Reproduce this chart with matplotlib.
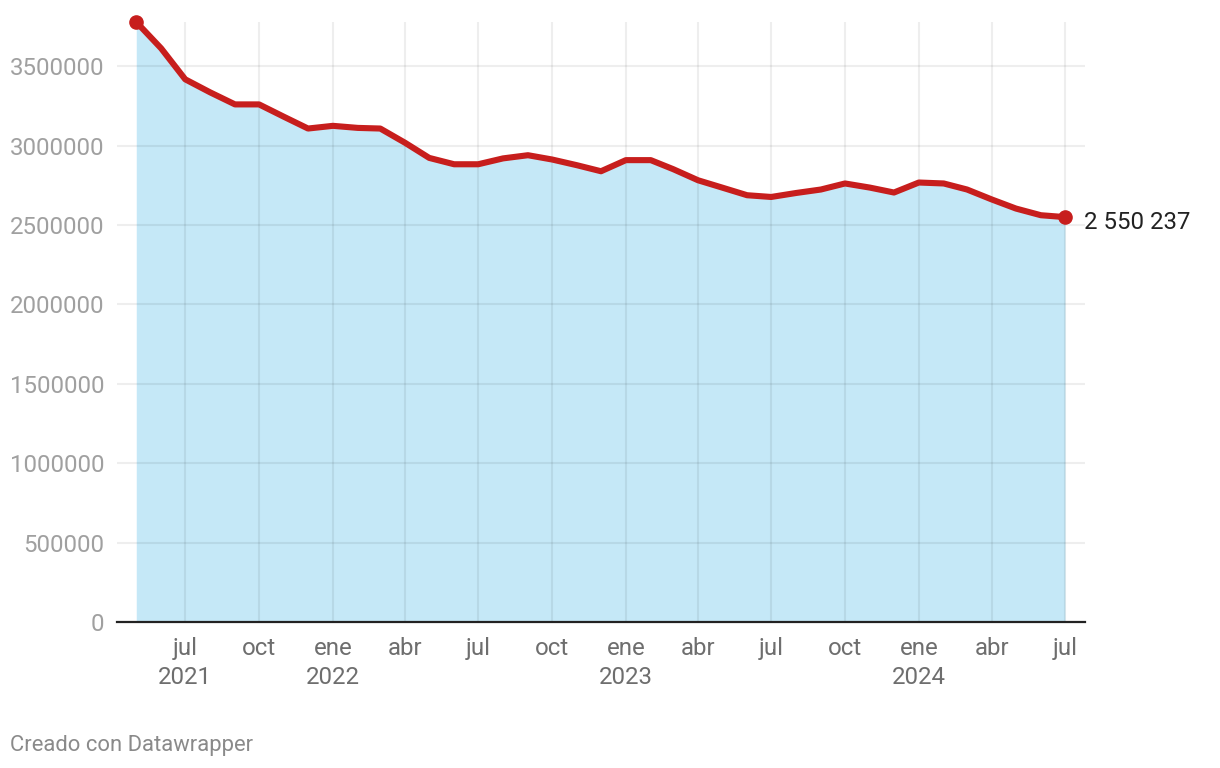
import pandas as pd
import matplotlib
matplotlib.use('Agg')
import matplotlib.pyplot as plt

plt.rcParams['font.family'] = ['Roboto', 'DejaVu Sans']

# datos mensuales, may 2021 - jul 2024
meses = pd.date_range('2021-05-01', '2024-07-01', freq='MS')
valores = [3779000, 3613000, 3418000, 3336000, 3260000, 3260000, 3182000, 3108000,
           3125000, 3112000, 3108000, 3018000, 2923000, 2883000, 2883000, 2920000,
           2940000, 2913000, 2877000, 2839000, 2909000, 2909000, 2852000, 2782000,
           2736000, 2688000, 2677000, 2702000, 2724000, 2762000, 2736000, 2705000,
           2768000, 2762000, 2724000, 2661000, 2604000, 2562000, 2550237]
nombres_mes = {1: 'ene', 4: 'abr', 7: 'jul', 10: 'oct'}
y_ticks = [0, 500000, 1000000, 1500000, 2000000, 2500000, 3000000, 3500000]

fig = plt.figure(figsize=(12.2, 7.68), dpi=100)
ax = fig.add_axes([117 / 1220, 1 - 622 / 768, 968 / 1220, 600 / 768])

ax.fill_between(meses, valores, 0, color='#c5e8f7', lw=0, zorder=1)
ax.plot(meses, valores, color='#c71e1d', lw=4.4, solid_joinstyle='round', zorder=3)
ax.plot([meses[0], meses[-1]], [valores[0], valores[-1]], 'o', color='#c71e1d',
        ms=9.5, zorder=4, clip_on=False)

# ejes
ax.set_xlim(pd.Timestamp('2021-04-07'), pd.Timestamp('2024-07-26'))
ax.set_ylim(0, valores[0])
ax.set_yticks(y_ticks)
ax.set_yticklabels([str(v) for v in y_ticks])

xt = [m for m in meses if m.month in nombres_mes]
xl = []
for m in xt:
    s = nombres_mes[m.month]
    if m.month == 1 or m == xt[0]:
        s += '\n' + str(m.year)
    xl.append(s)
ax.set_xticks(xt)
ax.set_xticklabels(xl, linespacing=1.3)

ax.grid(True, color='black', alpha=0.065, lw=1.5, zorder=2)
ax.set_axisbelow(False)
for sp in ['top', 'right', 'left']:
    ax.spines[sp].set_visible(False)
ax.spines['bottom'].set_color('#222222')
ax.spines['bottom'].set_linewidth(1.6)
ax.spines['bottom'].set_zorder(5)

ax.tick_params(axis='y', length=0, pad=9, labelsize=17.3, labelcolor='#a0a0a0')
ax.tick_params(axis='x', length=0, pad=11, labelsize=17.3, labelcolor='#6e6e6e')

ax.annotate('2 550 237', xy=(meses[-1], valores[-1]), xytext=(14, -4),
            textcoords='offset points', va='center', ha='left',
            fontsize=17.3, color='#222222', annotation_clip=False)

fig.text(10 / 1220, 1 - 745 / 768, 'Creado con Datawrapper', fontsize=15.8,
         color='#8a8a8a', va='center', ha='left')

fig.savefig('out.png', dpi=100)
